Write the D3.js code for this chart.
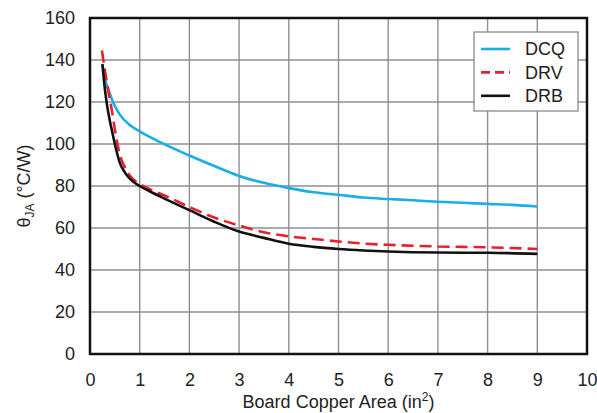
<!DOCTYPE html>
<html>
<head>
<meta charset="utf-8">
<script src="https://cdn.jsdelivr.net/npm/d3@7"></script>
<style>
  body { margin: 0; background: #fff; }
  svg { display: block; font-family: 'Liberation Sans', Arial, sans-serif; }
  .grid line { stroke: #8f8f8f; stroke-width: 1.4; }
  .axis text { fill: #222; }
</style>
</head>
<body>
<div id="chart"></div>
<script>
// Data (board copper area in², θJA in °C/W)
const dcqX = [0.25, 0.3, 0.37, 0.47, 0.6, 0.8, 1.0, 1.4, 2.0, 2.5, 3.0, 3.5, 4.0, 4.5, 5.0, 5.5, 6.0, 6.5, 7.0, 7.5, 8.0, 8.5, 9.0];
const dcqY = [138, 131, 126, 119.5, 114, 109, 106, 101, 94.5, 89.5, 84.8, 81.5, 79, 77, 75.8, 74.5, 73.8, 73.2, 72.5, 72, 71.5, 71, 70.2];

const drvX = [0.24, 0.3, 0.37, 0.44, 0.5, 0.6, 0.7, 0.8, 1.0, 1.2, 1.5, 2.0, 2.5, 3.0, 3.5, 4.0, 4.5, 5.0, 5.5, 6.0, 7.0, 8.0, 9.0];
const drvY = [144.5, 135, 125, 116, 107, 95, 89, 85, 81, 78.5, 75.5, 70, 65, 61.2, 58, 56, 54.8, 53.6, 52.6, 52, 51.2, 50.8, 50];

const drbX = [0.25, 0.3, 0.34, 0.4, 0.44, 0.5, 0.6, 0.7, 0.8, 1.0, 1.2, 1.5, 2.0, 2.5, 3.0, 3.5, 4.0, 4.5, 5.0, 5.5, 6.0, 7.0, 8.0, 9.0];
const drbY = [138, 126, 119, 111, 106.5, 100, 91, 86.5, 83.5, 80, 77.5, 74, 68.5, 63, 58.3, 55.3, 52.5, 51, 50, 49.3, 48.8, 48.3, 48.2, 47.7];

const xTicks = [0, 1, 2, 3, 4, 5, 6, 7, 8, 9, 10];
const yTicks = [0, 20, 40, 60, 80, 100, 120, 140, 160];

const series = [
  { name: 'DCQ', xs: dcqX, ys: dcqY, color: '#1aaee8', dash: null },
  { name: 'DRV', xs: drvX, ys: drvY, color: '#e8202c', dash: '12,6' },
  { name: 'DRB', xs: drbX, ys: drbY, color: '#111111', dash: null }
];

const width = 597, height = 413;
const margin = { top: 18, right: 10, bottom: 59, left: 90 };
const fs = 18;

const svg = d3.select('#chart').append('svg')
  .attr('width', width)
  .attr('height', height);

const x = d3.scaleLinear().domain([0, 10]).range([margin.left, width - margin.right]);
const y = d3.scaleLinear().domain([0, 160]).range([height - margin.bottom, margin.top]);

// Grid
const grid = svg.append('g').attr('class', 'grid');
grid.selectAll('.vx').data(xTicks.slice(1, -1)).enter().append('line')
  .attr('x1', d => x(d)).attr('x2', d => x(d))
  .attr('y1', y(0)).attr('y2', y(160));
grid.selectAll('.hy').data(yTicks.slice(1, -1)).enter().append('line')
  .attr('x1', x(0)).attr('x2', x(10))
  .attr('y1', d => y(d)).attr('y2', d => y(d));

// Axes (labels only, frame drawn separately)
const xAxis = d3.axisBottom(x).tickValues(xTicks).tickSize(0).tickPadding(19).tickFormat(d3.format('d'));
const yAxis = d3.axisLeft(y).tickValues(yTicks).tickSize(0).tickPadding(15).tickFormat(d3.format('d'));

svg.append('g').attr('class', 'axis')
  .attr('transform', `translate(0,${y(0)})`)
  .call(xAxis)
  .call(g => g.select('.domain').remove())
  .selectAll('text').attr('font-size', fs).attr('font-family', null);

svg.append('g').attr('class', 'axis')
  .attr('transform', `translate(${x(0)},0)`)
  .call(yAxis)
  .call(g => g.select('.domain').remove())
  .selectAll('text').attr('font-size', fs).attr('font-family', null);

// Curves
const line = d3.line()
  .x(d => x(d[0]))
  .y(d => y(d[1]))
  .curve(d3.curveMonotoneX);

svg.append('g').selectAll('path').data(series).enter().append('path')
  .attr('d', s => line(s.xs.map((v, i) => [v, s.ys[i]])))
  .attr('fill', 'none')
  .attr('stroke', s => s.color)
  .attr('stroke-width', 2.6)
  .attr('stroke-dasharray', s => s.dash);

// Frame
svg.append('rect')
  .attr('x', x(0)).attr('y', y(160))
  .attr('width', x(10) - x(0)).attr('height', y(0) - y(160))
  .attr('fill', 'none').attr('stroke', '#111').attr('stroke-width', 2.5);

// Legend
const legend = svg.append('g').attr('transform', 'translate(474,32)');
legend.append('rect')
  .attr('width', 104).attr('height', 79)
  .attr('fill', '#fff').attr('stroke', '#8a8a8a').attr('stroke-width', 1.3);
const item = legend.selectAll('.item').data(series).enter().append('g')
  .attr('transform', (d, i) => `translate(0,${17 + i * 23.4})`);
item.append('line')
  .attr('x1', 7).attr('x2', 36)
  .attr('stroke', d => d.color).attr('stroke-width', 2.6)
  .attr('stroke-dasharray', d => d.dash ? '9,5' : null);
item.append('text')
  .attr('x', 51).attr('dy', '0.35em')
  .attr('font-size', fs).attr('fill', '#222')
  .text(d => d.name);

// Axis titles
const xt = svg.append('text')
  .attr('x', x(5)).attr('y', 408)
  .attr('text-anchor', 'middle').attr('font-size', fs).attr('fill', '#222');
xt.append('tspan').text('Board Copper Area (in');
xt.append('tspan').attr('font-size', 12).attr('dy', -7).text('2');
xt.append('tspan').attr('dy', 7).text(')');

const yt = svg.append('text')
  .attr('transform', `translate(30,${(y(0) + y(160)) / 2}) rotate(-90)`)
  .attr('text-anchor', 'middle').attr('font-size', fs).attr('fill', '#222');
yt.append('tspan').text('θ');
yt.append('tspan').attr('font-size', 12).attr('dy', 4).text('JA');
yt.append('tspan').attr('dy', -4).text(' (°C/W)');
</script>
</body>
</html>
